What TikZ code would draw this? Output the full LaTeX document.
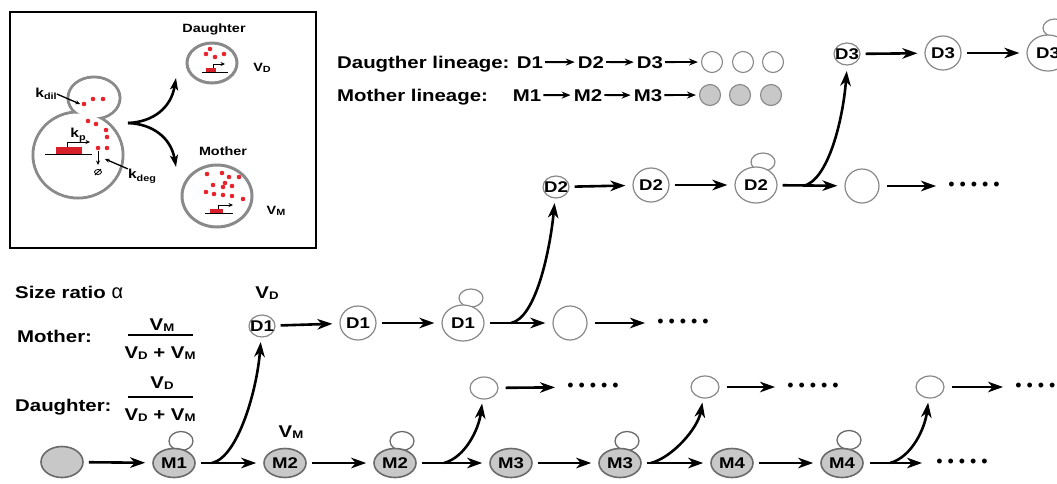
\documentclass[tikz,border=0pt]{standalone}
\usepackage{fontspec}
\setmainfont{Liberation Sans}[FakeStretch=1.2]
\newfontfamily\dotfont{Liberation Sans}
\usetikzlibrary{arrows.meta,shapes.geometric}
\definecolor{cellgrey}{HTML}{C8C8C8}
\definecolor{edgegrey}{HTML}{6A6A6A}
\definecolor{thingrey}{HTML}{888888}
\definecolor{insetgrey}{HTML}{8A8A8A}
\definecolor{dotred}{HTML}{E8232B}
\definecolor{genered}{HTML}{D7202A}
\newcommand\fsz[1]{\fontsize{#1}{#1}\selectfont}
% V with a small lowered index letter
\newcommand\Vidx[2]{V\raisebox{-0.8pt}{\fsz{#2}#1}}
\newcommand\dotrow{{\dotfont\fsz{18}\textbullet\hspace{5pt}\textbullet\hspace{5pt}\textbullet\hspace{5pt}\textbullet\hspace{5pt}\textbullet}}
\begin{document}
\begin{tikzpicture}[x=1pt,y=-1pt,
  txt/.style={font=\fsz{17}\bfseries, inner sep=0pt},
  celltext/.style={font=\fsz{15.5}\bfseries, inner sep=0pt},
  mcell/.style={ellipse, draw=edgegrey, fill=cellgrey, line width=1.6pt,
    minimum width=42pt, minimum height=29pt, inner sep=0pt,
    label={[celltext]center:#1}},
  mbud/.style={ellipse, draw=edgegrey, fill=white, line width=1.3pt,
    minimum width=24pt, minimum height=19pt, inner sep=0pt},
  dsmall/.style={ellipse, draw=thingrey, fill=white, line width=1.2pt,
    minimum width=26pt, minimum height=22pt, inner sep=0pt,
    label={[celltext]center:#1}},
  dmid/.style={ellipse, draw=thingrey, fill=white, line width=1.2pt,
    minimum width=36pt, minimum height=34pt, inner sep=0pt,
    label={[celltext]center:#1}},
  dbig/.style={ellipse, draw=thingrey, fill=white, line width=1.2pt,
    minimum width=42pt, minimum height=36pt, inner sep=0pt,
    label={[celltext]center:#1}},
  dempty/.style={ellipse, draw=thingrey, fill=white, line width=1.2pt,
    minimum width=34pt, minimum height=34pt, inner sep=0pt},
  dtiny/.style={ellipse, draw=thingrey, fill=white, line width=1.2pt,
    minimum width=28pt, minimum height=22pt, inner sep=0pt},
  dbud/.style={ellipse, draw=thingrey, fill=white, line width=1.2pt,
    minimum width=24pt, minimum height=18pt, inner sep=0pt},
  dots/.style={inner sep=0pt},
  arr/.style={line width=2.6pt, -{Stealth[length=15pt,width=10.5pt,inset=4.5pt]}},
  gap/.style={shorten <=5pt, shorten >=7pt},
  legarr/.style={line width=1.8pt, -{Stealth[length=9pt,width=7pt,inset=3pt]}, shorten <=2pt, shorten >=3pt},
  legw/.style={circle, draw=thingrey, fill=white, line width=1.1pt, minimum size=21pt, inner sep=0pt},
  legg/.style={circle, draw=thingrey, fill=cellgrey, line width=1.1pt, minimum size=21pt, inner sep=0pt},
  insetcell/.style={draw=insetgrey, line width=3pt},
  thinarr/.style={line width=1pt, -{Stealth[length=4.5pt,width=4pt]}},
  iarr/.style={line width=2.6pt, -{Stealth[length=12pt,width=8pt,inset=3pt]}},
  ilab/.style={font=\fsz{12}\bfseries, inner sep=0pt},
  klab/.style={font=\fsz{13}\bfseries, inner sep=0pt}
]
\useasboundingbox (0,0) rectangle (1057,483);
\clip (0,0) rectangle (1057,483);

% ---------------- inset: one budding cell and its two progeny ----------------
\draw[line width=1.3pt] (10,12) rectangle (316,248);
\draw[insetcell] (94,98) ellipse [x radius=26, y radius=21];
\draw[insetcell] (78,155) ellipse [x radius=45, y radius=43];
\fill[white] (94,98) ellipse [x radius=24.5, y radius=19.5];
\fill[white] (78,155) ellipse [x radius=43.5, y radius=41.5];
\foreach \p in {(84,104),(93,99),(103,99),(88,121),(96,124),(106,130),(107,137),(107,148),(98,148)}
  \fill[dotred] \p circle (2.3);
% gene with promoter
\draw[line width=1pt] (45,154) -- (92,154);
\fill[genered] (56,147) rectangle (82,154);
\draw[thinarr] (67,147) -- (67,142) -- (90,142);
% degradation
\draw[thinarr] (98,151) -- (98,165);
\draw[line width=0.8pt] (98,172) ellipse [x radius=3.5, y radius=2.5];
\draw[line width=0.8pt] (95,175) -- (101,169);
% rate labels
\node[klab] (kdil) at (46,94) {k\raisebox{-2.5pt}{\fsz{9}dil}};
\node[klab] (kp) at (78,135) {k\raisebox{-2.5pt}{\fsz{9}p}};
\node[klab] (kdeg) at (142,176) {k\raisebox{-2.5pt}{\fsz{9}deg}};
\coordinate (kdiltip) at (80,104);
\coordinate (kdegtip) at (105,159);
\draw[thinarr, line width=1.3pt] (kdil.east) -- (kdiltip);
\draw[thinarr, line width=1.3pt] (kdeg.north west) -- (kdegtip);

% progeny cells
\node[ellipse, insetcell, minimum width=50pt, minimum height=40pt, inner sep=0pt] (idau) at (212,63) {};
\node[ellipse, insetcell, minimum width=70pt, minimum height=62pt, inner sep=0pt] (imot) at (217,196) {};
\foreach \p in {(210,49),(206,54),(215,57),(224,54)}
  \fill[dotred] \p circle (2.3);
\foreach \p in {(207,174),(222,173),(229,177),(239,177),(225,183),(213,185),(223,187),(232,186),(206,192),(214,194),(223,195),(232,196),(243,199)}
  \fill[dotred] \p circle (2.3);
\draw[line width=1pt] (202,72) -- (228,72);
\fill[genered] (206,67.5) rectangle (216,72);
\draw[thinarr] (213,67.5) -- (213,64) -- (225,64);
\draw[line width=1pt] (205,213) -- (233,213);
\fill[genered] (210,208.5) rectangle (223,213);
\draw[thinarr] (218,208.5) -- (218,205) -- (233,205);
\node[ilab] at (214,29) {Daughter};
\node[ilab] at (223,151) {Mother};
\node[ilab] at (262,68) {\Vidx{D}{9}};
\node[ilab] at (276,211) {\Vidx{M}{9}};
% division arrows
\coordinate (ifork) at (128,123);
\coordinate (iup) at (176,78);
\coordinate (idown) at (176,167);
\draw[iarr] (ifork) .. controls (153,122) and (171,108) .. (iup);
\draw[iarr] (ifork) .. controls (153,124) and (171,138) .. (idown);

% ---------------- lineage legend ----------------
\node[txt, anchor=base west] (dleg) at (337,68) {Daugther lineage:};
\node[txt, anchor=base] (ld1) at (530,68) {D1};
\node[txt, anchor=base] (ld2) at (591,68) {D2};
\node[txt, anchor=base] (ld3) at (650,68) {D3};
\node[legw] (lw1) at (712,62) {};
\node[legw] (lw2) at (743,62) {};
\node[legw] (lw3) at (773,62) {};
\draw[legarr] (ld1) -- (ld2);
\draw[legarr] (ld2) -- (ld3);
\draw[legarr] (ld3) -- (lw1);
\node[txt, anchor=base west] (mleg) at (337,101) {Mother lineage:};
\node[txt, anchor=base] (lm1) at (527,101) {M1};
\node[txt, anchor=base] (lm2) at (588,101) {M2};
\node[txt, anchor=base] (lm3) at (648,101) {M3};
\node[legg] (lg1) at (710,95) {};
\node[legg] (lg2) at (740,95) {};
\node[legg] (lg3) at (771,95) {};
\draw[legarr] (lm1) -- (lm2);
\draw[legarr] (lm2) -- (lm3);
\draw[legarr] (lm3) -- (lg1);

% ---------------- size ratio ----------------
\node[txt, anchor=base west] (sr) at (15,298) {Size ratio {\dotfont\fsz{20}\mdseries α}};
\node[txt, anchor=base west] (mo) at (17,342) {Mother:};
\node[txt, anchor=base west] (da) at (15,411) {Daughter:};
\node[txt] (mnum) at (162,325) {\Vidx{M}{11}};
\node[txt] (mden) at (160,353) {\Vidx{D}{11} + \Vidx{M}{11}};
\draw[line width=1.6pt] (128,335) -- (193,335);
\node[txt] (dnum) at (162,383) {\Vidx{D}{11}};
\node[txt] (dden) at (160,415) {\Vidx{D}{11} + \Vidx{M}{11}};
\draw[line width=1.6pt] (128,397) -- (193,397);

% ---------------- mother lineage (bottom row) ----------------
\node[mcell={}, minimum width=42pt, minimum height=31pt] (m0) at (62,462) {};
\node[mbud] (mb1) at (181,441) {};
\node[mcell={M1}] (m1) at (174,463) {};
\node[mcell={M2}] (m2) at (285,463) {};
\node[mbud] (mb2) at (402,441) {};
\node[mcell={M2}] (m2b) at (395,463) {};
\node[mcell={M3}] (m3) at (511,463) {};
\node[mbud] (mb3) at (627,441) {};
\node[mcell={M3}] (m3b) at (620,463) {};
\node[mcell={M4}] (m4) at (732,463) {};
\node[mbud] (mb4) at (849,440) {};
\node[mcell={M4}] (m4b) at (842,463) {};
\node[dots] (dotsm) at (962,463) {\dotrow};
\node[txt] (vm) at (291,432) {\Vidx{M}{11}};

\draw[arr, gap] (m0) -- (m1);
\draw[arr, gap] (m1) -- (m2);
\draw[arr, gap] (m2) -- (m2b);
\draw[arr, gap] (m2b) -- (m3);
\draw[arr, gap] (m3) -- (m3b);
\draw[arr, gap] (m3b) -- (m4);
\draw[arr, gap] (m4) -- (m4b);
\draw[arr, shorten <=6pt, shorten >=14pt] (m4b) -- (dotsm);

% newborn daughters of later divisions
\node[dtiny] (n2) at (484,388) {};
\node[dtiny] (n3) at (705,387) {};
\node[dtiny] (n4) at (930,387) {};
\node[dots] (dots2) at (593,387) {\dotrow};
\node[dots] (dots3) at (813,387) {\dotrow};
\node[dots] (dots4) at (1041,387) {\dotrow};
\draw[arr, shorten <=7pt, shorten >=12pt] (n2) -- (dots2);
\draw[arr, shorten <=7pt, shorten >=12pt] (n3) -- (dots3);
\draw[arr, shorten <=7pt, shorten >=12pt] (n4) -- (dots4);

\coordinate (fm1) at (212,463);
\coordinate (fm2) at (444,463);
\coordinate (fm3) at (651,463);
\coordinate (fm4) at (890,463);
\draw[arr, shorten >=4pt] (fm1) .. controls (238,457) and (257,390) .. (261,338);
\draw[arr, shorten >=4pt] (fm2) .. controls (466,457) and (479,428) .. (n2);
\draw[arr, shorten >=4pt] (fm3) .. controls (673,457) and (698,428) .. (n3);
\draw[arr, shorten >=4pt] (fm4) .. controls (912,457) and (925,428) .. (n4);

% ---------------- first daughter lineage ----------------
\node[dsmall={D1}] (d1a) at (262,326) {};
\node[dmid={D1}] (d1b) at (358,323) {};
\node[dbud] (db1) at (471,298) {};
\node[dbig={D1}] (d1c) at (463,323) {};
\node[dempty] (d1n) at (570,323) {};
\node[dots] (dots1) at (683,323) {\dotrow};
\node[txt] (vd) at (267,293) {\Vidx{D}{11}};
\draw[arr, gap] (d1a) -- (d1b);
\draw[arr, gap] (d1b) -- (d1c);
\draw[arr, gap] (d1c) -- (d1n);
\draw[arr, shorten <=7pt, shorten >=12pt] (d1n) -- (dots1);
\coordinate (fd1) at (511,323);
\draw[arr, shorten >=4pt] (fd1) .. controls (536,318) and (550,250) .. (555,199);

% ---------------- second daughter lineage ----------------
\node[dsmall={D2}] (d2a) at (556,187) {};
\node[dmid={D2}] (d2b) at (651,185) {};
\node[dbud] (db2) at (763,162) {};
\node[dbig={D2}] (d2c) at (756,185) {};
\node[dempty] (d2n) at (862,186) {};
\node[dots] (dotsd2) at (974,186) {\dotrow};
\draw[arr, gap] (d2a) -- (d2b);
\draw[arr, gap] (d2b) -- (d2c);
\draw[arr, gap] (d2c) -- (d2n);
\draw[arr, shorten <=7pt, shorten >=12pt] (d2n) -- (dotsd2);
\coordinate (fd2) at (803,186);
\draw[arr, shorten >=4pt] (fd2) .. controls (828,181) and (843,120) .. (847,67);

% ---------------- third daughter lineage ----------------
\node[dsmall={D3}] (d3a) at (847,54) {};
\node[dmid={D3}] (d3b) at (943,53) {};
\node[dbud] (db3) at (1055,28) {};
\node[dbig={D3}] (d3c) at (1048,53) {};
\draw[arr, gap] (d3a) -- (d3b);
\draw[arr, gap] (d3b) -- (d3c);
\end{tikzpicture}
\end{document}
